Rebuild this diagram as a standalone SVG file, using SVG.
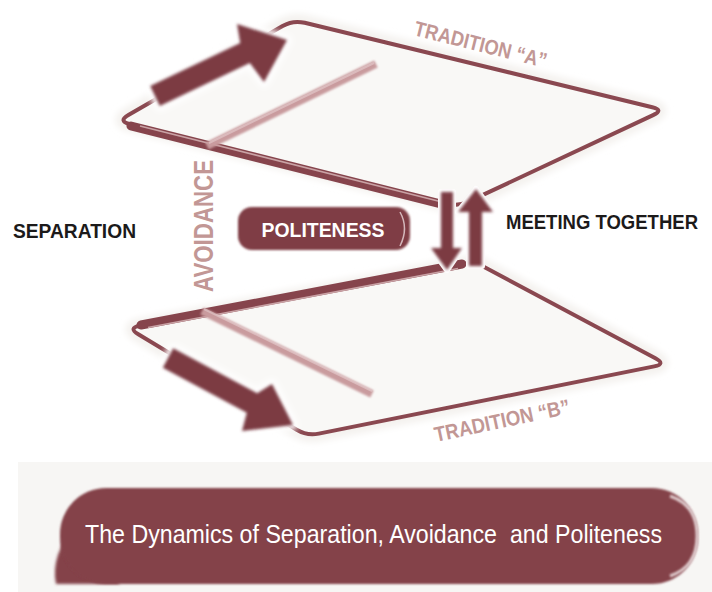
<svg xmlns="http://www.w3.org/2000/svg" width="712" height="592" viewBox="0 0 712 592">
<style>
.halo{fill:#f4f2ef;stroke:#f4f2ef;stroke-width:16;stroke-linejoin:round}
.panel{fill:#f9f8f6;stroke:#8a4850;stroke-width:4;stroke-linejoin:round}
.thick{stroke:#86444c;stroke-width:9;stroke-linecap:round;fill:none}
.thin{stroke:#c9a2a5;stroke-width:1.6;fill:none}
.arrow{fill:#7c3b43;filter:url(#soft)}
.arrowhalo{fill:#ffffff;stroke:#ffffff;stroke-width:10;stroke-linejoin:round}
.bar{stroke:#c99b9e;stroke-width:8;filter:url(#soft1)}
.barhi{stroke:#e6cdcf;stroke-width:2}
.pink{font-family:"Liberation Sans",Arial,sans-serif;font-weight:bold;fill:#c29795}
.black{font-family:"Liberation Sans",Arial,sans-serif;font-weight:bold;fill:#1c1a1a;font-size:21px}
.white{font-family:"Liberation Sans",Arial,sans-serif;fill:#ffffff}
</style>
<defs>
<filter id="soft" x="-20%" y="-20%" width="140%" height="140%"><feGaussianBlur stdDeviation="1.6"/></filter>
<filter id="soft1" x="-20%" y="-20%" width="140%" height="140%"><feGaussianBlur stdDeviation="0.8"/></filter>
<filter id="glow" x="-10%" y="-10%" width="120%" height="120%"><feGaussianBlur stdDeviation="3"/></filter>
</defs>
<rect width="712" height="592" fill="#ffffff"/>

<g id="panel-a">
<path class="halo" filter="url(#glow)" d="M128.4,115 L282.6,26 Q293,20 304.7,22.8 L652.3,107.2 Q664,110 653.1,115.1 L467.9,201.9 Q457,207 445.4,204 L129.6,124 Q118,121 128.4,115 Z"/>
<path class="panel" d="M128.4,115 L282.6,26 Q293,20 304.7,22.8 L652.3,107.2 Q664,110 653.1,115.1 L467.9,201.9 Q457,207 445.4,204 L129.6,124 Q118,121 128.4,115 Z"/>
<line class="thick" x1="131" y1="126" x2="445" y2="205"/>
<line class="thin" x1="140" y1="126" x2="440" y2="201.5"/>
<text class="pink" font-size="21" transform="translate(413,35) rotate(14)" textLength="136" lengthAdjust="spacingAndGlyphs">TRADITION “A”</text>
</g>

<g id="panel-b">
<path class="halo" filter="url(#glow)" d="M139.8,325.8 L463.2,264.2 Q475,262 485.6,267.7 L655.4,358.3 Q666,364 654.2,366.4 L318.8,433.6 Q307,436 296.7,429.8 L138.3,334.2 Q128,328 139.8,325.8 Z"/>
<path class="panel" d="M139.8,325.8 L463.2,264.2 Q475,262 485.6,267.7 L655.4,358.3 Q666,364 654.2,366.4 L318.8,433.6 Q307,436 296.7,429.8 L138.3,334.2 Q128,328 139.8,325.8 Z"/>
<line class="thick" x1="141" y1="325" x2="462" y2="264"/>
<line class="thin" x1="148" y1="327.5" x2="458" y2="268.5"/>
<text class="pink" font-size="21" transform="translate(436,442) rotate(-12)" textLength="138" lengthAdjust="spacingAndGlyphs">TRADITION “B”</text>
</g>

<g id="connectors">
<g id="arrow-top">
<polygon class="arrowhalo" filter="url(#glow)" points="150.2,86.1 240.2,43.1 237,24 287,40 264,82 249.8,62.9 159.8,105.9"/>
<polygon class="arrow" points="150.2,86.1 240.2,43.1 237,24 287,40 264,82 249.8,62.9 159.8,105.9"/>
</g>
<g id="arrow-bottom">
<polygon class="arrowhalo" filter="url(#glow)" points="173.2,348.3 257.2,393.3 272,384 293,425 242,431 246.8,412.7 162.8,367.7"/>
<polygon class="arrow" points="173.2,348.3 257.2,393.3 272,384 293,425 242,431 246.8,412.7 162.8,367.7"/>
</g>
<g id="bar-top">
<line class="bar" x1="207" y1="146" x2="376" y2="64"/>
<line class="barhi" x1="209" y1="143" x2="374" y2="63" opacity="0.6"/>
</g>
<g id="bar-bottom">
<line class="bar" x1="202" y1="311" x2="372" y2="394"/>
<line class="barhi" x1="204" y1="309" x2="372" y2="391" opacity="0.6"/>
</g>
<g id="arrow-down">
<polygon fill="#ffffff" stroke="#ffffff" stroke-width="6" stroke-linejoin="round" points="441,192 453,192 453,248 462,248 447,270 431,248 441,248"/>
<polygon class="arrow" points="441,192 453,192 453,248 462,248 447,270 431,248 441,248"/>
</g>
<g id="arrow-up">
<polygon fill="#ffffff" stroke="#ffffff" stroke-width="6" stroke-linejoin="round" points="476,189 493,212 482,212 482,266 469,266 469,212 458,212"/>
<polygon class="arrow" points="476,189 493,212 482,212 482,266 469,266 469,212 458,212"/>
</g>
</g>

<g id="avoidance">
<text class="pink" font-size="28" text-anchor="middle" transform="translate(213,226) rotate(-90)" textLength="132" lengthAdjust="spacingAndGlyphs">AVOIDANCE</text>
</g>

<g id="politeness">
<rect x="238" y="207" width="172" height="43" rx="14" fill="#7f3c45" filter="url(#soft1)"/>
<path d="M400,212 Q409,228 400,246" fill="none" stroke="#e8d6d8" stroke-width="1.5" opacity="0.8"/>
<text class="white" font-weight="bold" font-size="20" x="323" y="237" text-anchor="middle" textLength="123" lengthAdjust="spacingAndGlyphs">POLITENESS</text>
</g>

<g id="separation">
<text class="black" x="13" y="238" textLength="123" lengthAdjust="spacingAndGlyphs">SEPARATION</text>
</g>

<g id="meeting-together">
<text class="black" x="506" y="229" style="font-size:20px" textLength="192" lengthAdjust="spacingAndGlyphs">MEETING TOGETHER</text>
</g>

<g id="title">
<rect x="18" y="462" width="694" height="130" fill="#f7f6f4"/>
<path d="M76,525 Q50,555 56,584 L120,584 Z" fill="#84424a" filter="url(#soft)"/>
<rect x="60" y="488" width="638" height="96" rx="46" fill="#84424a" filter="url(#soft1)"/>
<path d="M670,496 Q697,505 697,536 Q697,567 670,576" fill="none" stroke="#efe3e4" stroke-width="3" opacity="0.85" filter="url(#soft1)"/>
<text class="white" font-size="25" x="85" y="543" textLength="577" lengthAdjust="spacingAndGlyphs" xml:space="preserve">The Dynamics of Separation, Avoidance  and Politeness</text>
</g>
</svg>
